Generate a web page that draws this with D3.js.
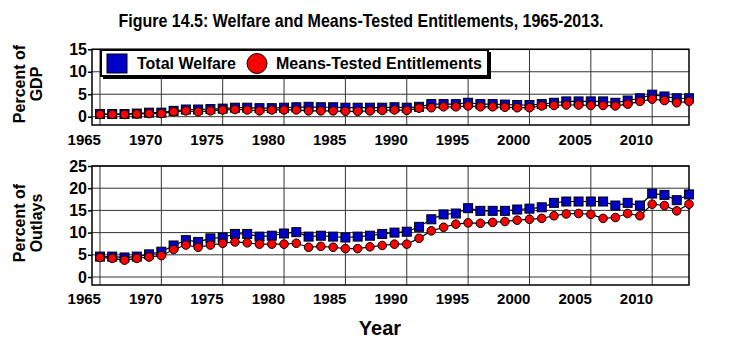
<!DOCTYPE html>
<html><head><meta charset="utf-8">
<script src="https://cdn.jsdelivr.net/npm/d3@7"></script>
<style>html,body{margin:0;padding:0;background:#fff;}svg{display:block;font-family:"Liberation Sans",Arial,sans-serif;font-weight:bold;}</style>
</head><body><svg id="c" width="730" height="347"></svg>
<script>
const years = d3.range(1965, 2014);
const welfareGDP = [0.6,0.6,0.6,0.7,0.9,0.9,1.3,1.6,1.6,1.7,1.8,2.0,2.0,1.9,1.9,2.0,2.1,2.2,2.1,2.1,2.0,2.0,2.0,2.0,2.1,2.0,
  2.2,2.8,2.8,2.8,3.1,2.8,2.8,2.7,2.6,2.6,2.8,3.1,3.4,3.4,3.4,3.4,3.1,3.6,4.1,4.9,4.5,4.1,4.1];
const meansGDP = [0.5,0.5,0.5,0.6,0.7,0.7,1.1,1.3,1.1,1.3,1.5,1.6,1.5,1.3,1.5,1.5,1.5,1.3,1.3,1.3,1.2,1.2,1.3,1.4,1.5,1.4,
  1.9,2.0,2.2,2.2,2.4,2.2,2.2,2.1,2.0,2.0,2.4,2.5,2.6,2.6,2.5,2.5,2.4,2.8,3.4,3.9,3.6,3.1,3.4];
const welfareOutlays = [4.6,4.6,4.4,4.6,5.1,5.7,7.1,8.3,7.9,8.7,8.9,9.7,9.7,9.1,9.3,9.8,10.1,9.1,9.3,9.1,8.9,9.1,9.3,9.7,10.0,10.2,
  11.3,13.0,14.1,14.3,15.5,14.9,14.9,14.9,15.2,15.4,15.7,16.7,17.0,17.0,17.0,17.0,16.1,16.7,16.1,18.8,18.5,17.3,18.6];
const meansOutlays = [4.4,4.2,3.8,4.2,4.5,4.8,6.2,7.2,6.7,7.2,7.6,7.9,7.7,7.4,7.4,7.4,7.6,6.7,6.9,6.7,6.4,6.4,6.8,7.1,7.4,7.4,
  8.7,10.4,11.2,11.9,12.2,12.1,12.3,12.5,12.8,13.0,13.2,13.8,14.2,14.3,14.1,13.2,13.4,14.3,13.8,16.4,16.1,14.9,16.4];
const xTicks = [1965,1970,1975,1980,1985,1990,1995,2000,2005,2010];
const gdpTicks = [0,5,10,15];
const outlayTicks = [0,5,10,15,20,25];
const seriesNames = ["Total Welfare","Means-Tested Entitlements"];
const titleText = "Figure 14.5: Welfare and Means-Tested Entitlements, 1965-2013.";

const svg = d3.select("#c");
const BLUE = "#0000c8", RED = "#ff0000";
const x = d3.scaleLinear().domain([1964.35, 2013]).range([92, 689]);

svg.append("text").attr("x", 361).attr("y", 27).attr("text-anchor","middle")
  .attr("font-size", 19).attr("textLength", 485).attr("lengthAdjust","spacingAndGlyphs").text(titleText);

function panel(y, ticks, s1, s2, labelLines, labelY, xLabelY) {
  const [y0, y1] = y.range();
  const g = svg.append("g");
  g.selectAll(".hg").data(ticks).join("line")
    .attr("x1", 92).attr("x2", 689).attr("y1", d=>y(d)).attr("y2", d=>y(d))
    .attr("stroke", "#333").attr("stroke-width", 1);
  g.selectAll(".vg").data(xTicks).join("line")
    .attr("x1", d=>x(d)).attr("x2", d=>x(d)).attr("y1", y1).attr("y2", y0)
    .attr("stroke", "#333").attr("stroke-width", 1);
  g.append("rect").attr("x", 92).attr("y", y1).attr("width", 689-92).attr("height", y0-y1)
    .attr("fill","none").attr("stroke","#000").attr("stroke-width",1.5);
  const ya = d3.axisLeft(y).tickValues(ticks).tickSize(4).tickPadding(1).tickFormat(d3.format("d"));
  const ag = svg.append("g").attr("transform","translate(92,0)").call(ya);
  ag.select(".domain").remove();
  ag.selectAll("text").attr("font-size",16).attr("font-weight","bold").attr("fill","#000")
    .attr("font-family",'"Liberation Sans",Arial,sans-serif');
  ag.selectAll("line").attr("stroke","#000").attr("stroke-width",1.5);
  svg.append("g").selectAll("text").data(xTicks).join("text")
    .attr("x", d=>x(d)+1).attr("y", xLabelY).attr("text-anchor","end")
    .attr("font-size",15).text(d=>d);
  const t = svg.append("text").attr("transform",`translate(25,${labelY}) rotate(-90)`)
    .attr("text-anchor","middle").attr("font-size",16);
  labelLines.forEach((l,i)=>t.append("tspan").attr("x",0).attr("dy", i===0?0:17).text(l));
  const line = d3.line().x((d,i)=>x(years[i])).y(d=>y(d));
  const sg = svg.append("g");
  sg.append("path").datum(s1).attr("d", line).attr("fill","none").attr("stroke","#000").attr("stroke-width",1.2);
  sg.selectAll(".sq").data(s1).join("rect")
    .attr("x",(d,i)=>x(years[i])-4.5).attr("y",d=>y(d)-4.5).attr("width",9).attr("height",9)
    .attr("fill",BLUE).attr("stroke","#000").attr("stroke-width",1);
  sg.append("path").datum(s2).attr("d", line).attr("fill","none").attr("stroke","#000").attr("stroke-width",1.2);
  sg.selectAll(".ci").data(s2).join("circle")
    .attr("cx",(d,i)=>x(years[i])).attr("cy",d=>y(d)).attr("r",4.3)
    .attr("fill",RED).attr("stroke","#000").attr("stroke-width",1);
}

const yTop = d3.scaleLinear().domain([-1.85, 15]).range([125, 49.3]);
const yBot = d3.scaleLinear().domain([-1.8, 25]).range([285, 166]);
panel(yTop, gdpTicks, welfareGDP, meansGDP, ["Percent of","GDP"], 84, 145);
panel(yBot, outlayTicks, welfareOutlays, meansOutlays, ["Percent of","Outlays"], 223, 304);

svg.append("text").attr("x", 380).attr("y", 335).attr("text-anchor","middle").attr("font-size",20).text("Year");

const lg = svg.append("g");
lg.append("rect").attr("x",103).attr("y",52).attr("width",388).attr("height",27).attr("fill","#000");
lg.append("rect").attr("x",101).attr("y",50).attr("width",387).attr("height",26).attr("fill","#fff").attr("stroke","#000").attr("stroke-width",2);
lg.append("rect").attr("x",107).attr("y",54).attr("width",20).attr("height",19).attr("fill",BLUE).attr("stroke","#000").attr("stroke-width",1);
lg.append("text").attr("x",137).attr("y",69).attr("font-size",16).text(seriesNames[0]);
lg.append("circle").attr("cx",257).attr("cy",63.5).attr("r",10).attr("fill",RED).attr("stroke","#000").attr("stroke-width",1);
lg.append("text").attr("x",276).attr("y",69).attr("font-size",16).text(seriesNames[1]);
</script></body></html>
